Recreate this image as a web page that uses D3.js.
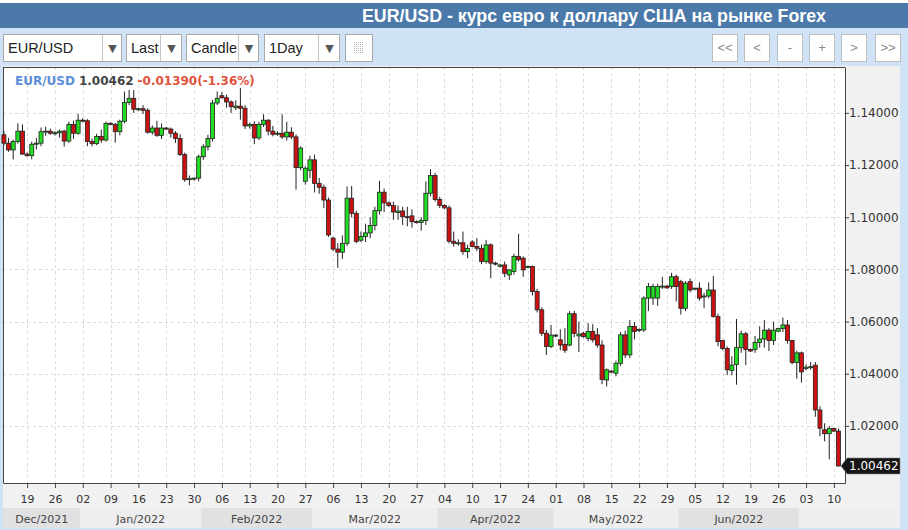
<!DOCTYPE html>
<html>
<head>
<meta charset="utf-8">
<script src="https://d3js.org/d3.v7.min.js"></script>
<style>
  body { margin: 0; background: #fff; }
  svg { display: block; }
</style>
</head>
<body>
<div id="chart"></div>
<script>
// Size of the widget
const w = 908;
const h = 530;

// Weekly tick labels (Sundays) and month band labels
const tickLabels = ["19","26","02","09","16","23","30","06","13","20","27","06","13","20","27",
                    "04","10","17","24","01","08","15","22","29","05","12","19","26","03","10"];
const monthLabels = ["Dec/2021","Jan/2022","Feb/2022","Mar/2022","Apr/2022","May/2022","Jun/2022",""];
const priceTicks = [1.02, 1.04, 1.06, 1.08, 1.10, 1.12, 1.14];

// Daily candles, 13 Dec 2021 .. 11 Jul 2022 (one line per week, Sunday bar first)
const opens = [
  1.1316,1.1284,1.1258,1.1290,1.1330,
  1.1242,1.1236,1.1280,1.1284,1.1328,1.1330,
  1.1320,1.1324,1.1330,1.1292,1.1356,1.1322,
  1.1372,1.1370,1.1290,1.1282,1.1310,1.1296,
  1.1360,1.1356,1.1328,1.1368,1.1440,1.1456,
  1.1414,1.1416,1.1410,1.1326,1.1342,1.1314,
  1.1342,1.1338,1.1322,1.1302,1.1240,1.1144,
  1.1146,1.1150,1.1232,1.1270,1.1302,1.1438,
  1.1466,1.1458,1.1442,1.1420,1.1426,1.1418,
  1.1350,1.1356,1.1304,1.1356,1.1372,1.1330,
  1.1320,1.1322,1.1308,1.1326,1.1308,1.1190,
  1.1138,1.1180,1.1220,1.1130,1.1115,1.1066,
  1.0920,1.0878,1.0866,1.0900,1.1073,1.1015,
  1.0912,1.0926,1.0940,1.0968,1.1025,1.1096,
  1.1055,1.1045,1.1018,1.1024,1.1002,1.1005,
  1.0983,1.0980,1.0988,1.1092,1.1160,1.1068,
  1.1045,1.1036,1.0908,1.0900,1.0902,1.0868,
  1.0905,1.0888,1.0881,1.0830,1.0894,1.0824,
  1.0812,1.0817,1.0779,1.0792,1.0850,1.0843,
  1.0811,1.0811,1.0715,1.0645,1.0555,1.0504,
  1.0548,1.0530,1.0512,1.0510,1.0630,1.0545,
  1.0555,1.0536,1.0562,1.0549,1.0510,1.0376,
  1.0410,1.0402,1.0440,1.0549,1.0472,1.0581,
  1.0566,1.0568,1.0690,1.0690,1.0690,1.0734,
  1.0736,1.0734,1.0772,1.0753,1.0651,1.0753,
  1.0725,1.0728,1.0696,1.0698,1.0721,1.0619,
  1.0527,1.0497,1.0413,1.0435,1.0500,1.0553,
  1.0493,1.0493,1.0520,1.0533,1.0567,1.0527,
  1.0563,1.0573,1.0587,1.0527,1.0443,1.0480,
  1.0420,1.0425,1.0433,1.0261,1.0185,1.0170,
  1.0190,1.0180
];
const highs = [
  1.1330,1.1304,1.1298,1.1360,1.1356,
  1.1248,1.1290,1.1304,1.1344,1.1347,1.1340,
  1.1330,1.1336,1.1336,1.1366,1.1370,1.1396,
  1.1380,1.1376,1.1302,1.1320,1.1336,1.1366,
  1.1364,1.1362,1.1374,1.1482,1.1488,1.1488,
  1.1420,1.1430,1.1418,1.1352,1.1370,1.1360,
  1.1346,1.1344,1.1330,1.1318,1.1248,1.1160,
  1.1152,1.1240,1.1280,1.1316,1.1450,1.1482,
  1.1480,1.1470,1.1448,1.1448,1.1495,1.1430,
  1.1362,1.1368,1.1366,1.1395,1.1376,1.1350,
  1.1330,1.1395,1.1366,1.1345,1.1318,1.1272,
  1.1195,1.1236,1.1240,1.1150,1.1125,1.1075,
  1.0925,1.0900,1.0930,1.1118,1.1120,1.1025,
  1.0945,1.0975,1.1000,1.1040,1.1140,1.1110,
  1.1060,1.1060,1.1045,1.1040,1.1040,1.1030,
  1.0988,1.1000,1.1137,1.1184,1.1170,1.1078,
  1.1050,1.1045,1.0945,1.0915,1.0945,1.0895,
  1.0913,1.0920,1.0895,1.0913,1.0900,1.0830,
  1.0822,1.0830,1.0800,1.0860,1.0936,1.0850,
  1.0815,1.0815,1.0725,1.0655,1.0568,1.0587,
  1.0552,1.0570,1.0575,1.0640,1.0641,1.0600,
  1.0560,1.0594,1.0590,1.0575,1.0528,1.0420,
  1.0414,1.0450,1.0560,1.0565,1.0606,1.0598,
  1.0574,1.0697,1.0748,1.0745,1.0745,1.0772,
  1.0740,1.0787,1.0780,1.0760,1.0755,1.0765,
  1.0730,1.0750,1.0710,1.0750,1.0775,1.0630,
  1.0530,1.0505,1.0467,1.0610,1.0565,1.0560,
  1.0497,1.0545,1.0582,1.0606,1.0575,1.0600,
  1.0576,1.0615,1.0606,1.0530,1.0488,1.0485,
  1.0436,1.0445,1.0445,1.0275,1.0210,1.0200,
  1.0193,1.0190
];
const lows = [
  1.1276,1.1251,1.1222,1.1282,1.1240,
  1.1232,1.1222,1.1260,1.1272,1.1312,1.1316,
  1.1314,1.1305,1.1271,1.1285,1.1300,1.1316,
  1.1364,1.1272,1.1272,1.1276,1.1285,1.1290,
  1.1352,1.1286,1.1314,1.1360,1.1430,1.1400,
  1.1408,1.1396,1.1320,1.1316,1.1308,1.1300,
  1.1334,1.1305,1.1285,1.1235,1.1136,1.1122,
  1.1140,1.1138,1.1220,1.1256,1.1290,1.1430,
  1.1455,1.1420,1.1400,1.1410,1.1374,1.1338,
  1.1340,1.1280,1.1296,1.1346,1.1314,1.1310,
  1.1312,1.1300,1.1294,1.1300,1.1106,1.1180,
  1.1125,1.1150,1.1095,1.1090,1.1035,1.0925,
  1.0870,1.0806,1.0840,1.0890,1.1000,1.0900,
  1.0905,1.0905,1.0920,1.0950,1.1010,1.1020,
  1.1040,1.0990,1.0990,1.0970,1.0965,1.0960,
  1.0976,1.0948,1.0970,1.1080,1.1060,1.1035,
  1.1030,1.0900,1.0887,1.0890,1.0856,1.0843,
  1.0885,1.0870,1.0820,1.0822,1.0766,1.0815,
  1.0808,1.0770,1.0760,1.0780,1.0830,1.0772,
  1.0805,1.0700,1.0635,1.0545,1.0472,1.0498,
  1.0540,1.0490,1.0480,1.0505,1.0540,1.0483,
  1.0538,1.0525,1.0520,1.0500,1.0360,1.0351,
  1.0402,1.0390,1.0430,1.0460,1.0460,1.0532,
  1.0560,1.0560,1.0640,1.0664,1.0660,1.0725,
  1.0726,1.0725,1.0677,1.0627,1.0640,1.0712,
  1.0720,1.0680,1.0651,1.0690,1.0615,1.0505,
  1.0490,1.0395,1.0394,1.0358,1.0480,1.0433,
  1.0484,1.0480,1.0500,1.0500,1.0487,1.0510,
  1.0560,1.0560,1.0515,1.0436,1.0381,1.0366,
  1.0413,1.0415,1.0235,1.0160,1.0141,1.0072,
  1.0176,1.0045
];
const closes = [
  1.1284,1.1258,1.1290,1.1330,1.1242,
  1.1236,1.1280,1.1284,1.1328,1.1330,1.1322,
  1.1324,1.1330,1.1292,1.1356,1.1322,1.1372,
  1.1370,1.1290,1.1282,1.1310,1.1296,1.1360,
  1.1356,1.1328,1.1368,1.1440,1.1456,1.1414,
  1.1416,1.1410,1.1326,1.1342,1.1314,1.1342,
  1.1338,1.1322,1.1302,1.1240,1.1144,1.1148,
  1.1150,1.1232,1.1270,1.1302,1.1438,1.1456,
  1.1458,1.1442,1.1424,1.1426,1.1418,1.1350,
  1.1356,1.1304,1.1356,1.1372,1.1330,1.1318,
  1.1322,1.1308,1.1326,1.1308,1.1190,1.1265,
  1.1188,1.1220,1.1130,1.1115,1.1066,1.0932,
  1.0878,1.0866,1.0900,1.1073,1.1015,1.0907,
  1.0926,1.0940,1.0968,1.1025,1.1096,1.1055,
  1.1045,1.1020,1.1024,1.1002,1.1000,1.0983,
  1.0980,1.0988,1.1092,1.1160,1.1068,1.1045,
  1.1036,1.0908,1.0900,1.0902,1.0868,1.0880,
  1.0888,1.0881,1.0830,1.0894,1.0824,1.0822,
  1.0817,1.0785,1.0798,1.0850,1.0837,1.0798,
  1.0811,1.0715,1.0645,1.0555,1.0504,1.0548,
  1.0546,1.0510,1.0490,1.0630,1.0555,1.0552,
  1.0542,1.0562,1.0530,1.0510,1.0378,1.0415,
  1.0406,1.0440,1.0549,1.0472,1.0581,1.0562,
  1.0570,1.0690,1.0734,1.0734,1.0734,1.0736,
  1.0729,1.0772,1.0734,1.0651,1.0747,1.0721,
  1.0728,1.0690,1.0698,1.0721,1.0619,1.0523,
  1.0497,1.0415,1.0433,1.0500,1.0553,1.0493,
  1.0487,1.0520,1.0533,1.0567,1.0527,1.0567,
  1.0573,1.0587,1.0527,1.0443,1.0480,1.0407,
  1.0425,1.0427,1.0261,1.0191,1.0170,1.0190,
  1.0180,1.00462
];

// Trading calendar: every day except Saturday, starting Mon 13 Dec 2021
const dates = [];
for (let d = new Date(2021, 11, 13); dates.length < closes.length; d.setDate(d.getDate() + 1)) {
  if (d.getDay() !== 6) dates.push(new Date(d));
}
const data = dates.map((d, i) => ({ i, date: d, o: opens[i], h: highs[i], l: lows[i], c: closes[i] }));

const svg = d3.select("#chart").append("svg")
  .attr("width", w)
  .attr("height", h)
  .style("font-family", "'DejaVu Sans', sans-serif");

// Plot frame
const plotLeft = 3, plotRight = 845, plotTop = 67, plotBottom = 483;

const x = d3.scaleLinear().domain([-0.2, 181.4]).range([plotLeft, plotRight]);
const y = d3.scaleLinear().domain([0.9981, 1.1576]).range([plotBottom, plotTop]);

// ---- page background, header and toolbar ----
svg.append("rect").attr("width", w).attr("height", h).attr("fill", "#d0e3f6");
svg.append("rect").attr("x", 0).attr("y", 0).attr("width", w).attr("height", 3).attr("fill", "#fff");
svg.append("rect").attr("x", 0).attr("y", 3).attr("width", w).attr("height", 25).attr("fill", "#4a79aa");
svg.append("text")
  .attr("x", 826).attr("y", 22)
  .attr("text-anchor", "end")
  .attr("font-family", "'Liberation Sans', Arial, sans-serif")
  .attr("font-weight", "bold")
  .attr("font-size", "17.8px")
  .attr("fill", "#fff")
  .text("EUR/USD - курс евро к доллару США на рынке Forex");

// select boxes of the toolbar
const selects = [
  { label: "EUR/USD", x0: 3, x1: 121, sep: 102 },
  { label: "Last", x0: 126, x1: 181, sep: 160 },
  { label: "Candle", x0: 186, x1: 258, sep: 238 },
  { label: "1Day", x0: 264, x1: 339, sep: 318 }
];
const sel = svg.append("g").selectAll("g").data(selects).enter().append("g");
sel.append("rect")
  .attr("x", d => d.x0 + 0.5).attr("y", 34.5)
  .attr("width", d => d.x1 - d.x0).attr("height", 27)
  .attr("fill", "#fff").attr("stroke", "#a9a9a9");
sel.append("line")
  .attr("x1", d => d.sep + 0.5).attr("x2", d => d.sep + 0.5)
  .attr("y1", 35).attr("y2", 61)
  .attr("stroke", "#c4c4c4");
sel.append("text")
  .attr("x", d => d.x0 + 5).attr("y", 53)
  .attr("font-family", "'Liberation Sans', Arial, sans-serif")
  .attr("font-size", "14.5px").attr("fill", "#222")
  .text(d => d.label);
sel.append("text")
  .attr("x", d => (d.sep + d.x1) / 2 + 1).attr("y", 52)
  .attr("text-anchor", "middle")
  .attr("font-size", "11px").attr("fill", "#555")
  .text("▼");

// small list icon button
svg.append("rect").attr("x", 345.5).attr("y", 34.5).attr("width", 27).attr("height", 27)
  .attr("fill", "#fff").attr("stroke", "#a9a9a9");
svg.append("g").selectAll("line").data([0, 1, 2, 3, 4, 5]).enter().append("line")
  .attr("x1", 354).attr("x2", 364)
  .attr("y1", d => 42.5 + d * 2).attr("y2", d => 42.5 + d * 2)
  .attr("stroke", "#b0b0b0").attr("stroke-dasharray", "1,1");

// navigation buttons on the right
const navLabels = ["<<", "<", "-", "+", ">", ">>"];
const navX = [712, 744, 777, 809, 841, 875];
const nav = svg.append("g").selectAll("g").data(navLabels).enter().append("g");
nav.append("rect")
  .attr("x", (d, i) => navX[i] + 0.5).attr("y", 34.5)
  .attr("width", 25).attr("height", 27)
  .attr("fill", "#fff").attr("stroke", "#bdbdbd");
nav.append("text")
  .attr("x", (d, i) => navX[i] + 13).attr("y", 52)
  .attr("text-anchor", "middle")
  .attr("font-family", "'Liberation Sans', Arial, sans-serif")
  .attr("font-size", "13px").attr("fill", "#8a8a8a")
  .text(d => d);

// ---- chart widget ----
svg.append("rect").attr("x", 3).attr("y", 66).attr("width", 897).attr("height", 462).attr("fill", "#f1f1f1");
svg.append("rect").attr("x", plotLeft).attr("y", plotTop)
  .attr("width", plotRight - plotLeft).attr("height", plotBottom - plotTop)
  .attr("fill", "#fff");

// month bands under the axis
const monthStarts = [0];
data.forEach((d, i) => { if (i > 0 && d.date.getMonth() !== data[i - 1].date.getMonth()) monthStarts.push(i); });
const bands = monthStarts.map((s, k) => ({
  x0: k === 0 ? plotLeft : x(s - 0.5),
  x1: k === monthStarts.length - 1 ? 900 : x(monthStarts[k + 1] - 0.5),
  label: monthLabels[k],
  dark: k % 2 === 0
}));
const band = svg.append("g").selectAll("g").data(bands).enter().append("g");
band.append("rect")
  .attr("x", d => d.x0).attr("y", 508)
  .attr("width", d => d.x1 - d.x0).attr("height", 20)
  .attr("fill", d => d.dark ? "#e1e1e1" : "#eeeeee");
band.append("text")
  .attr("x", d => (d.x0 + d.x1) / 2).attr("y", 523)
  .attr("text-anchor", "middle")
  .attr("font-size", "11px").attr("fill", "#444")
  .text(d => d.label);

// grid lines
const sundays = data.filter(d => d.date.getDay() === 0);
svg.append("g").selectAll("line").data(sundays).enter().append("line")
  .attr("x1", d => Math.round(x(d.i)) + 0.5).attr("x2", d => Math.round(x(d.i)) + 0.5)
  .attr("y1", plotTop).attr("y2", plotBottom)
  .attr("stroke", "#dcdcdc").attr("stroke-dasharray", "3,3");
svg.append("g").selectAll("line").data(priceTicks).enter().append("line")
  .attr("x1", plotLeft).attr("x2", plotRight)
  .attr("y1", d => Math.round(y(d)) + 0.5).attr("y2", d => Math.round(y(d)) + 0.5)
  .attr("stroke", "#dcdcdc").attr("stroke-dasharray", "3,3");

// x axis with weekly ticks
const xAxis = d3.axisBottom(x)
  .tickValues(sundays.map(d => d.i))
  .tickFormat((d, k) => tickLabels[k])
  .tickSize(5)
  .tickSizeOuter(0);
const gx = svg.append("g").attr("transform", `translate(0,${plotBottom})`).call(xAxis);
gx.select(".domain").attr("stroke", "#444");
gx.selectAll(".tick line").attr("stroke", "#444");
gx.selectAll(".tick text").attr("font-size", "11px").attr("fill", "#333").attr("dy", "1.05em")
  .attr("font-family", "'DejaVu Sans', sans-serif");

// y axis on the right
const yAxis = d3.axisRight(y)
  .tickValues(priceTicks)
  .tickFormat(d3.format(".5f"))
  .tickSize(4)
  .tickSizeOuter(0);
const gy = svg.append("g").attr("transform", `translate(${plotRight},0)`).call(yAxis);
gy.select(".domain").attr("stroke", "#444");
gy.selectAll(".tick line").attr("stroke", "#444");
gy.selectAll(".tick text").attr("font-size", "12px").attr("fill", "#333").attr("x", 4)
  .attr("font-family", "'DejaVu Sans', sans-serif");

// frame lines
svg.append("line").attr("x1", plotLeft + 0.5).attr("x2", plotLeft + 0.5)
  .attr("y1", plotTop).attr("y2", plotBottom).attr("stroke", "#444");
svg.append("line").attr("x1", plotLeft).attr("x2", plotRight)
  .attr("y1", plotTop + 0.5).attr("y2", plotTop + 0.5).attr("stroke", "#444");

// ---- candles ----
const bodyW = 4;
const candles = svg.append("g").selectAll("g").data(data).enter().append("g");
candles.append("line")
  .attr("x1", d => x(d.i)).attr("x2", d => x(d.i))
  .attr("y1", d => y(d.h)).attr("y2", d => y(d.l))
  .attr("stroke", "#222").attr("stroke-width", 1);
candles.append("rect")
  .attr("x", d => x(d.i) - bodyW / 2)
  .attr("y", d => y(Math.max(d.o, d.c)))
  .attr("width", bodyW)
  .attr("height", d => Math.max(1, Math.abs(y(d.o) - y(d.c))))
  .attr("fill", d => d.c >= d.o ? "#22dd22" : "#cc1111")
  .attr("stroke", "#222").attr("stroke-width", 0.8);

// legend text
const legend = svg.append("text").attr("x", 15).attr("y", 85)
  .attr("font-size", "12px").attr("font-weight", "bold");
legend.append("tspan").attr("fill", "#5b8ed8").text("EUR/USD");
legend.append("tspan").attr("fill", "#444").attr("dx", 4).text("1.00462");
legend.append("tspan").attr("fill", "#e0523a").attr("dx", 4).text("-0.01390(-1.36%)");

// last price marker
const last = closes[closes.length - 1];
const ly = y(last);
svg.append("path")
  .attr("d", `M841,${ly} L847,${ly - 8} H900 V${ly + 8} H847 Z`)
  .attr("fill", "#151515").attr("stroke", "#888").attr("stroke-width", 0.6);
svg.append("text").attr("x", 849).attr("y", ly + 4.5)
  .attr("font-size", "12px").attr("fill", "#fff")
  .text(d3.format(".5f")(last));
</script>
</body>
</html>
